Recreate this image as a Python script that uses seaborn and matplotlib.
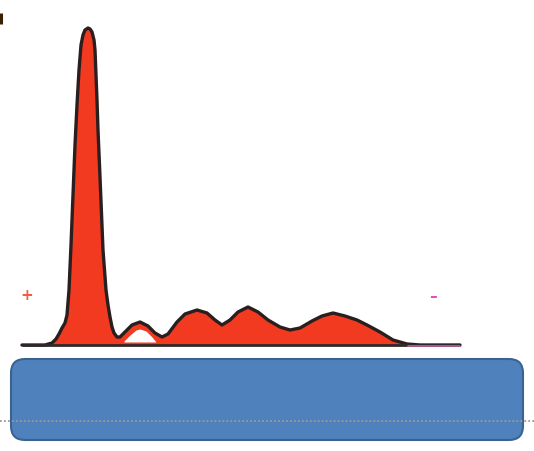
import matplotlib
matplotlib.use("Agg")
import matplotlib.pyplot as plt
from matplotlib.patches import FancyBboxPatch
import numpy as np
import pandas as pd
import seaborn as sns

# Electrophoresis trace: position (px from left) and height above baseline (px)
trace_x = [22, 40, 45, 52, 56, 59, 62, 65, 67, 69, 71, 73, 75, 77, 79, 81, 83, 85, 88, 90,
           92, 94, 95, 97, 98, 100, 103, 106, 108, 110, 112, 114, 117, 120, 125, 132, 140,
           148, 155, 162, 168, 177, 185, 197, 207, 215, 222, 230, 238, 248, 258, 268, 280,
           290, 300, 312, 322, 333, 345, 357, 367, 380, 393, 407, 420, 460]
trace_h = [0, 0, 0, 2, 6, 11, 17, 22, 30, 55, 100, 150, 200, 240, 275, 300, 310, 315, 317, 316,
           313, 305, 295, 245, 215, 168, 95, 55, 40, 28, 18, 12, 8, 8, 13, 20, 23,
           19, 12, 8, 11, 23, 31, 35, 32, 25, 20, 25, 33, 38, 33, 25, 18,
           15, 17, 24, 29, 32, 29, 25, 20, 13, 5, 1, 0, 0]

# Pale gap inside the small first bump
gap_x = [124, 130, 136, 140, 146, 152, 156]
gap_top = [4, 10, 15, 16, 14, 8, 3]
gap_bottom = 3

sns.set_theme(style="white")
fig = plt.figure(figsize=(5.34, 4.51), dpi=100)
ax = fig.add_axes([0, 0, 1, 1])
ax.set_xlim(0, 534)
ax.set_ylim(-106, 345)
ax.axis("off")

ax.fill_between(trace_x, 0, trace_h, color="#F23A20", lw=0, zorder=2)
ax.fill_between(gap_x, gap_bottom, gap_top, color="white", lw=0, zorder=3)
df = pd.DataFrame({"x": trace_x, "h": trace_h})
sns.lineplot(data=df, x="x", y="h", sort=False, color="#2a1e1e", lw=2.4, ax=ax, zorder=4)
ax.plot([22, 460], [0, 0], color="#2f2a2a", lw=2.0, zorder=4, solid_capstyle="butt")
ax.plot([408, 460], [-0.5, -0.5], color="#c060a0", lw=1.2, zorder=5)

ax.text(27, 49, "+", color="#F06040", fontsize=11, fontweight="bold", ha="center", va="center")
ax.text(433, 48, "\u2013", color="#E050C0", fontsize=11, fontweight="bold", ha="center", va="center")
# cut-off dark mark at the top-left edge
ax.plot([1, 1], [321, 332], color="#3a2000", lw=2.2, solid_capstyle="butt")

box = FancyBboxPatch((11, -95), 512, 81, boxstyle="round,pad=0,rounding_size=14",
                     facecolor="#4F81BD", edgecolor="#3A6393", lw=1.5, zorder=5)
ax.add_patch(box)
ax.plot([0, 534], [-75.5, -75.5], color="#9a9a9a", lw=1.3, ls=(0, (1, 1.2)), zorder=6)

fig.savefig("out.png", dpi=100)
